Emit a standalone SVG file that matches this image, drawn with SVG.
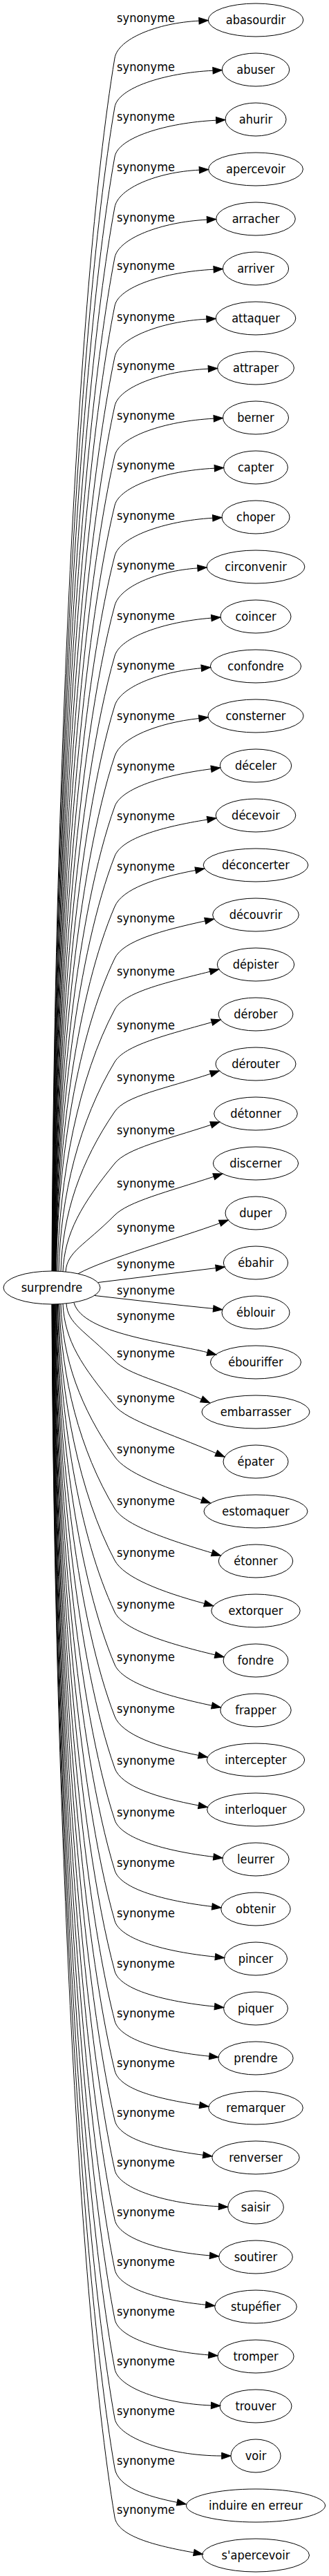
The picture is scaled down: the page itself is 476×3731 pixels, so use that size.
<svg xmlns="http://www.w3.org/2000/svg" width="476" height="3731" viewBox="0 0 476 3731">
<style>
text{font-family:"DejaVu Sans Condensed","DejaVu Sans",sans-serif;font-stretch:condensed;font-size:18px;fill:#000;text-anchor:middle}
.e path{fill:none;stroke:#000;stroke-width:1;marker-end:url(#arr)}
.n ellipse{fill:none;stroke:#000;stroke-width:1}
</style>
<defs>
<marker id="arr" markerUnits="userSpaceOnUse" markerWidth="14" markerHeight="11" viewBox="0 0 14 11" refX="0.5" refY="5.5" orient="auto" overflow="visible">
<path d="M0.5,0.8 L13.8,5.5 L0.5,10.2 z" fill="#000" stroke="#000" stroke-width="1"/>
</marker>
</defs>
<rect width="476" height="3731" fill="#fff"/>
<g id="connectors" class="e">
<g><path d="M75,1841 C77.7,1208.5 108.7,430.3 166,84 C170.6,56.4 227,33.2 287.9,30.2"/><text x="211" y="32">synonyme</text></g>
<g><path d="M75.4,1841 C78.1,1234 108.9,488.5 166,155 C170.7,127.4 237.1,105.7 308,102.2"/><text x="211" y="103">synonyme</text></g>
<g><path d="M75.7,1841 C78.4,1260 109.1,547.5 166,227 C170.9,199.4 239.4,177.9 312.7,174.2"/><text x="211" y="175">synonyme</text></g>
<g><path d="M76.1,1841 C78.8,1286.2 109.4,607.4 166,300 C171.1,272.5 227.2,249.2 288.3,246.2"/><text x="211" y="248">synonyme</text></g>
<g><path d="M76.4,1841 C79.1,1312.5 109.6,667.2 166,373 C171.3,345.5 232.8,321.5 299.4,318.2"/><text x="211" y="321">synonyme</text></g>
<g><path d="M76.8,1841 C79.5,1337.7 109.8,724.6 166,443 C171.5,415.5 237.6,393.8 309.1,390.2"/><text x="211" y="391">synonyme</text></g>
<g><path d="M77.1,1841 C79.8,1364.4 110,785.3 166,517 C171.7,489.6 232.5,465.5 298.9,462.2"/><text x="211" y="465">synonyme</text></g>
<g><path d="M77.5,1841 C80.2,1389.9 110.2,843.5 166,588 C172,560.6 233.7,537.6 301.3,534.2"/><text x="211" y="536">synonyme</text></g>
<g><path d="M77.8,1841 C80.4,1415.8 110.4,902.6 166,660 C172.2,632.7 237.7,609.8 309.2,606.2"/><text x="211" y="608">synonyme</text></g>
<g><path d="M78.2,1841 C80.8,1441.8 110.7,961.6 166,732 C172.6,704.8 238.2,681.8 310.3,678.2"/><text x="211" y="680">synonyme</text></g>
<g><path d="M78.5,1841 C81.1,1468 110.9,1021.5 166,805 C172.9,777.9 237,754.5 307.7,750.3"/><text x="211" y="753">synonyme</text></g>
<g><path d="M78.9,1841 C81.5,1494 111.1,1080.5 166,877 C173.3,850 226.1,827.1 285.9,822.9"/><text x="211" y="825">synonyme</text></g>
<g><path d="M79.2,1841 C81.8,1520.2 111.3,1140.4 166,950 C173.7,923.1 236.1,900.7 305.8,895.1"/><text x="211" y="898">synonyme</text></g>
<g><path d="M79.6,1841 C82.2,1546.2 111.6,1199.4 166,1022 C174.2,995.2 228.9,973.3 291.3,967.7"/><text x="211" y="970">synonyme</text></g>
<g><path d="M79.9,1841 C82.5,1572.4 111.8,1259.3 166,1095 C174.8,1068.4 227.3,1047.2 287.9,1040.5"/><text x="211" y="1043">synonyme</text></g>
<g><path d="M80.3,1841 C82.9,1598.7 112,1319.1 166,1168 C175.4,1141.7 236.3,1122.7 305.5,1113.7"/><text x="211" y="1116">synonyme</text></g>
<g><path d="M80.6,1841 C83.2,1624.6 112.2,1378.2 166,1240 C176.2,1213.9 233.8,1197.7 299.9,1187.1"/><text x="211" y="1188">synonyme</text></g>
<g><path d="M81,1841 C83.6,1650.9 112.5,1438 166,1313 C177,1287.3 225.4,1271.4 282.8,1260.5"/><text x="211" y="1261">synonyme</text></g>
<g><path d="M81.3,1841 C83.8,1677.9 112.6,1499.5 166,1388 C178.1,1362.7 232.9,1347.9 296.7,1333.9"/><text x="211" y="1336">synonyme</text></g>
<g><path d="M83,1841 C85.5,1704.6 113.7,1560.2 166,1462 C179.2,1437.3 237,1423.9 303.8,1407.2"/><text x="211" y="1413">synonyme</text></g>
<g><path d="M85,1841 C87.4,1731.9 115,1622.5 166,1538 C180.5,1514 238.8,1499.5 306.4,1480.6"/><text x="211" y="1491">synonyme</text></g>
<g><path d="M88,1841.5 C90.3,1757.8 116.9,1681.6 166,1610 C181.8,1586.9 238.8,1576.9 304.7,1555.2"/><text x="211" y="1566">synonyme</text></g>
<g><path d="M91,1842 C93.3,1785.5 118.8,1743.3 166,1685 C183.6,1663.3 239.1,1651 305.2,1629.2"/><text x="211" y="1643">synonyme</text></g>
<g><path d="M95,1842 C97.1,1812.5 121.3,1804.8 166,1760 C185.8,1740.2 241.3,1726.6 309.3,1704.2"/><text x="211" y="1720">synonyme</text></g>
<g><path d="M113,1844.8 C153,1822.8 261.7,1792.4 318,1771.6"/><text x="211" y="1784">synonyme</text></g>
<g><path d="M142,1857.5 C199,1850.5 255.6,1843.4 312.2,1836.6"/><text x="211" y="1837">synonyme</text></g>
<g><path d="M137,1876.5 C194,1883 251.9,1889.7 308.6,1895.4"/><text x="211" y="1875">synonyme</text></g>
<g><path d="M107,1887 C120,1932 241.9,1944.2 300.1,1958.8"/><text x="211" y="1912">synonyme</text></g>
<g><path d="M96,1888 C98.1,1917.9 121.9,1926.1 166,1971 C185.6,1991 234.3,2000.8 291.5,2026.5"/><text x="211" y="1966">synonyme</text></g>
<g><path d="M91,1888.4 C93.3,1941.5 118.8,1979.4 166,2036 C183.9,2057.5 245.3,2075.8 312.7,2104.8"/><text x="211" y="2031">synonyme</text></g>
<g><path d="M88,1888.6 C90.3,1968.3 116.9,2040.1 166,2110 C182.1,2132.9 232.5,2151.8 292,2172.6"/><text x="211" y="2105">synonyme</text></g>
<g><path d="M86,1888.8 C88.4,1995.4 115.6,2101.7 166,2185 C180.5,2208.9 239.3,2229 306.7,2249.2"/><text x="211" y="2180">synonyme</text></g>
<g><path d="M84.5,1888.9 C86.9,2022.5 114.7,2163.2 166,2260 C179.1,2284.7 233.1,2305.6 295.8,2322.5"/><text x="211" y="2255">synonyme</text></g>
<g><path d="M83.5,1889 C86,2049.6 114,2224.7 166,2335 C178,2360.3 240.6,2380 311.2,2396.9"/><text x="211" y="2330">synonyme</text></g>
<g><path d="M82.5,1889 C85,2076.9 113.4,2287 166,2411 C176.9,2436.8 237.8,2455.9 306.5,2470.3"/><text x="211" y="2406">synonyme</text></g>
<g><path d="M81.7,1889 C84.2,2103.9 112.9,2348.5 166,2486 C176.1,2512.1 227.8,2530.5 287.3,2542.4"/><text x="211" y="2481">synonyme</text></g>
<g><path d="M81,1889 C83.6,2130.9 112.5,2410 166,2561 C175.4,2587.4 227.7,2603.7 287.3,2615"/><text x="211" y="2556">synonyme</text></g>
<g><path d="M80.3,1889 C82.9,2157.9 112,2471.5 166,2636 C174.7,2662.6 238,2680.9 308.9,2689.4"/><text x="211" y="2631">synonyme</text></g>
<g><path d="M79.7,1889 C82.3,2184.2 111.6,2531.4 166,2709 C174.2,2735.8 236.9,2753 306.8,2761.4"/><text x="211" y="2704">synonyme</text></g>
<g><path d="M79.2,1889 C81.8,2210.5 111.3,2591.3 166,2782 C173.7,2808.9 239.1,2827 311.4,2834.2"/><text x="211" y="2777">synonyme</text></g>
<g><path d="M78.7,1889 C81.3,2236.8 111,2651.1 166,2855 C173.3,2882 238.6,2899 310.5,2906.2"/><text x="211" y="2850">synonyme</text></g>
<g><path d="M78.2,1889 C80.8,2262.7 110.7,2710.2 166,2927 C172.9,2954.1 234.7,2971.4 302.8,2978.2"/><text x="211" y="2922">synonyme</text></g>
<g><path d="M77.8,1889 C80.4,2288.6 110.4,2769.2 166,2999 C172.6,3026.2 228.1,3039.9 288.8,3049"/><text x="211" y="2994">synonyme</text></g>
<g><path d="M77.4,1889 C80.1,2314.5 110.2,2828.2 166,3071 C172.3,3098.3 230.4,3113.1 293.8,3121.3"/><text x="211" y="3066">synonyme</text></g>
<g><path d="M77,1889 C79.7,2340.4 109.9,2887.3 166,3143 C172,3170.4 241.3,3192.1 316.4,3195.8"/><text x="211" y="3138">synonyme</text></g>
<g><path d="M76.6,1889 C79.3,2366.4 109.7,2946.3 166,3215 C171.7,3242.4 235,3261.4 303.5,3266.9"/><text x="211" y="3210">synonyme</text></g>
<g><path d="M76.3,1889 C79,2392.3 109.5,3005.4 166,3287 C171.5,3314.5 232.1,3331.7 297.6,3338.2"/><text x="211" y="3282">synonyme</text></g>
<g><path d="M76,1889 C78.7,2418.2 109.3,3064.4 166,3359 C171.3,3386.5 234.1,3405.5 301.7,3410.9"/><text x="211" y="3354">synonyme</text></g>
<g><path d="M75.7,1889 C78.4,2444.1 109.1,3123.4 166,3431 C171.1,3458.5 235.8,3481.2 305.5,3484"/><text x="211" y="3426">synonyme</text></g>
<g><path d="M75.4,1889 C78.1,2470 108.9,3182.5 166,3503 C170.9,3530.6 243.4,3557 320.7,3557"/><text x="211" y="3498">synonyme</text></g>
<g><path d="M75.2,1889 C77.9,2496 108.8,3241.5 166,3575 C170.7,3602.6 212,3615.5 256.3,3624.4"/><text x="211" y="3570">synonyme</text></g>
<g><path d="M75,1889 C77.7,2521.5 108.7,3299.7 166,3646 C170.6,3673.6 224.1,3687 280.4,3697.1"/><text x="211" y="3641">synonyme</text></g>
</g>
<g id="surprendre" class="n"><ellipse cx="75" cy="1865" rx="70" ry="24"/><text x="75" y="1871">surprendre</text></g>
<g id="abasourdir" class="n"><ellipse cx="370" cy="29" rx="68.8" ry="24"/><text x="370" y="35">abasourdir</text></g>
<g id="abuser" class="n"><ellipse cx="370" cy="101" rx="48.7" ry="24"/><text x="370" y="107">abuser</text></g>
<g id="ahurir" class="n"><ellipse cx="370" cy="173" rx="44" ry="24"/><text x="370" y="179">ahurir</text></g>
<g id="apercevoir" class="n"><ellipse cx="370" cy="245" rx="68.4" ry="24"/><text x="370" y="251">apercevoir</text></g>
<g id="arracher" class="n"><ellipse cx="370" cy="317" rx="57.3" ry="24"/><text x="370" y="323">arracher</text></g>
<g id="arriver" class="n"><ellipse cx="370" cy="389" rx="47.6" ry="24"/><text x="370" y="395">arriver</text></g>
<g id="attaquer" class="n"><ellipse cx="370" cy="461" rx="57.8" ry="24"/><text x="370" y="467">attaquer</text></g>
<g id="attraper" class="n"><ellipse cx="370" cy="533" rx="55.4" ry="24"/><text x="370" y="539">attraper</text></g>
<g id="berner" class="n"><ellipse cx="370" cy="605" rx="47.5" ry="24"/><text x="370" y="611">berner</text></g>
<g id="capter" class="n"><ellipse cx="370" cy="677" rx="46.4" ry="24"/><text x="370" y="683">capter</text></g>
<g id="choper" class="n"><ellipse cx="370" cy="749" rx="49" ry="24"/><text x="370" y="755">choper</text></g>
<g id="circonvenir" class="n"><ellipse cx="370" cy="821" rx="70.9" ry="24"/><text x="370" y="827">circonvenir</text></g>
<g id="coincer" class="n"><ellipse cx="370" cy="893" rx="51" ry="24"/><text x="370" y="899">coincer</text></g>
<g id="confondre" class="n"><ellipse cx="370" cy="965" rx="65.6" ry="24"/><text x="370" y="971">confondre</text></g>
<g id="consterner" class="n"><ellipse cx="370" cy="1037" rx="69.1" ry="24"/><text x="370" y="1043">consterner</text></g>
<g id="deceler" class="n"><ellipse cx="370" cy="1109" rx="51.7" ry="24"/><text x="370" y="1115">déceler</text></g>
<g id="decevoir" class="n"><ellipse cx="370" cy="1181" rx="57.8" ry="24"/><text x="370" y="1187">décevoir</text></g>
<g id="deconcerter" class="n"><ellipse cx="370" cy="1253" rx="75.8" ry="24"/><text x="370" y="1259">déconcerter</text></g>
<g id="decouvrir" class="n"><ellipse cx="370" cy="1325" rx="62.3" ry="24"/><text x="370" y="1331">découvrir</text></g>
<g id="depister" class="n"><ellipse cx="370" cy="1397" rx="55.7" ry="24"/><text x="370" y="1403">dépister</text></g>
<g id="derober" class="n"><ellipse cx="370" cy="1469" rx="53.9" ry="24"/><text x="370" y="1475">dérober</text></g>
<g id="derouter" class="n"><ellipse cx="370" cy="1541" rx="58" ry="24"/><text x="370" y="1547">dérouter</text></g>
<g id="detonner" class="n"><ellipse cx="370" cy="1613" rx="60.3" ry="24"/><text x="370" y="1619">détonner</text></g>
<g id="discerner" class="n"><ellipse cx="370" cy="1685" rx="61.6" ry="24"/><text x="370" y="1691">discerner</text></g>
<g id="duper" class="n"><ellipse cx="370" cy="1757" rx="44" ry="24"/><text x="370" y="1763">duper</text></g>
<g id="ebahir" class="n"><ellipse cx="370" cy="1829" rx="46.6" ry="24"/><text x="370" y="1835">ébahir</text></g>
<g id="eblouir" class="n"><ellipse cx="370" cy="1901" rx="49" ry="24"/><text x="370" y="1907">éblouir</text></g>
<g id="ebouriffer" class="n"><ellipse cx="370" cy="1973" rx="65.5" ry="24"/><text x="370" y="1979">ébouriffer</text></g>
<g id="embarrasser" class="n"><ellipse cx="370" cy="2045" rx="78" ry="24"/><text x="370" y="2051">embarrasser</text></g>
<g id="epater" class="n"><ellipse cx="370" cy="2117" rx="47" ry="24"/><text x="370" y="2123">épater</text></g>
<g id="estomaquer" class="n"><ellipse cx="370" cy="2189" rx="75" ry="24"/><text x="370" y="2195">estomaquer</text></g>
<g id="etonner" class="n"><ellipse cx="370" cy="2261" rx="53.7" ry="24"/><text x="370" y="2267">étonner</text></g>
<g id="extorquer" class="n"><ellipse cx="370" cy="2333" rx="64.2" ry="24"/><text x="370" y="2339">extorquer</text></g>
<g id="fondre" class="n"><ellipse cx="370" cy="2405" rx="46.9" ry="24"/><text x="370" y="2411">fondre</text></g>
<g id="frapper" class="n"><ellipse cx="370" cy="2477" rx="51.2" ry="24"/><text x="370" y="2483">frapper</text></g>
<g id="intercepter" class="n"><ellipse cx="370" cy="2549" rx="70.7" ry="24"/><text x="370" y="2555">intercepter</text></g>
<g id="interloquer" class="n"><ellipse cx="370" cy="2621" rx="70.4" ry="24"/><text x="370" y="2627">interloquer</text></g>
<g id="leurrer" class="n"><ellipse cx="370" cy="2693" rx="48.1" ry="24"/><text x="370" y="2699">leurrer</text></g>
<g id="obtenir" class="n"><ellipse cx="370" cy="2765" rx="50.2" ry="24"/><text x="370" y="2771">obtenir</text></g>
<g id="pincer" class="n"><ellipse cx="370" cy="2837" rx="45.5" ry="24"/><text x="370" y="2843">pincer</text></g>
<g id="piquer" class="n"><ellipse cx="370" cy="2909" rx="46.4" ry="24"/><text x="370" y="2915">piquer</text></g>
<g id="prendre" class="n"><ellipse cx="370" cy="2981" rx="54.1" ry="24"/><text x="370" y="2987">prendre</text></g>
<g id="remarquer" class="n"><ellipse cx="370" cy="3053" rx="68.3" ry="24"/><text x="370" y="3059">remarquer</text></g>
<g id="renverser" class="n"><ellipse cx="370" cy="3125" rx="63.2" ry="24"/><text x="370" y="3131">renverser</text></g>
<g id="saisir" class="n"><ellipse cx="370" cy="3197" rx="40.3" ry="24"/><text x="370" y="3203">saisir</text></g>
<g id="soutirer" class="n"><ellipse cx="370" cy="3269" rx="53.3" ry="24"/><text x="370" y="3275">soutirer</text></g>
<g id="stupefier" class="n"><ellipse cx="370" cy="3341" rx="59.3" ry="24"/><text x="370" y="3347">stupéfier</text></g>
<g id="tromper" class="n"><ellipse cx="370" cy="3413" rx="55.1" ry="24"/><text x="370" y="3419">tromper</text></g>
<g id="trouver" class="n"><ellipse cx="370" cy="3485" rx="52" ry="24"/><text x="370" y="3491">trouver</text></g>
<g id="voir" class="n"><ellipse cx="370" cy="3557" rx="36" ry="24"/><text x="370" y="3563">voir</text></g>
<g id="induire_en_erreur" class="n"><ellipse cx="370" cy="3629" rx="100.5" ry="24"/><text x="370" y="3635">induire en erreur</text></g>
<g id="s_apercevoir" class="n"><ellipse cx="370" cy="3701" rx="77.5" ry="24"/><text x="370" y="3707">s'apercevoir</text></g>
</svg>
